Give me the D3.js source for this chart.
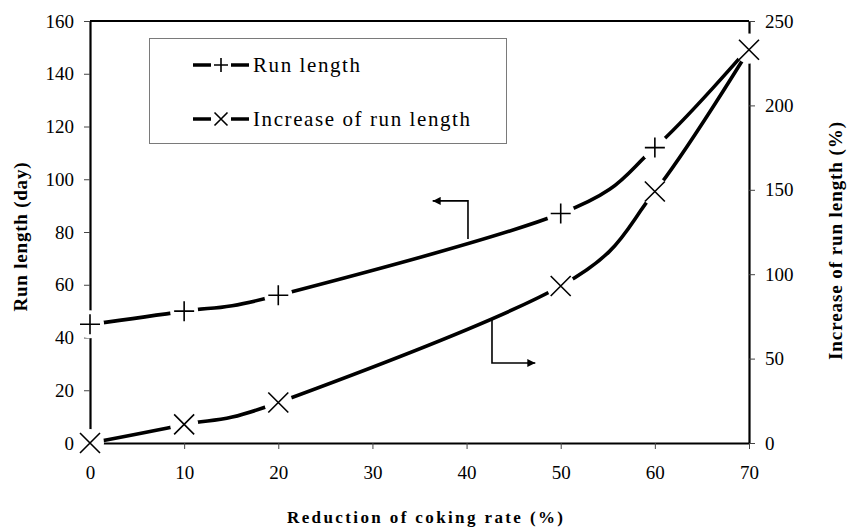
<!DOCTYPE html>
<html lang="en">
<head>
<meta charset="UTF-8">
<title>Run length</title>
<script src="https://cdnjs.cloudflare.com/ajax/libs/d3/7.8.4/d3.min.js"></script>
<style>
  body { margin: 0; background: #fff; }
</style>
</head>
<body>
<div class="visHolder"></div>
<script>
  // values
  const reduction = [0, 10, 20, 50, 60, 70];
  const runLength = [45, 50, 56, 87, 112, 150];
  const increase = [0, 11, 24, 93, 149, 233];
  const xTicks = [0, 10, 20, 30, 40, 50, 60, 70];
  const leftTicks = [0, 20, 40, 60, 80, 100, 120, 140, 160];
  const rightTicks = [0, 50, 100, 150, 200, 250];
  const seriesNames = ["Run length", "Increase of run length"];

  const w = 847;
  const h = 527;
  const serif = "Liberation Serif, DejaVu Serif, serif";

  const xScale = d3.scaleLinear().domain([0, 70]).range([90, 749]);
  const yLeft = d3.scaleLinear().domain([0, 160]).range([443, 21]);
  const yRight = d3.scaleLinear().domain([0, 250]).range([443, 21]);

  const svg = d3.select(".visHolder")
    .append("svg")
    .attr("width", w)
    .attr("height", h)
    .attr("font-family", serif);

  // axes
  const styleAxis = (g) => {
    g.attr("font-family", serif).attr("font-size", 19);
    g.select(".domain").attr("stroke", "#000").attr("stroke-width", 2.2);
    g.selectAll(".tick line").attr("stroke", "#444").attr("stroke-width", 1);
    g.selectAll(".tick text").attr("fill", "#000");
  };

  svg.append("g")
    .attr("transform", "translate(0,443)")
    .call(d3.axisBottom(xScale).tickValues(xTicks).tickSize(6).tickSizeOuter(0).tickPadding(17))
    .call(styleAxis);

  svg.append("g")
    .attr("transform", "translate(90,0)")
    .call(d3.axisLeft(yLeft).tickValues(leftTicks).tickSize(6).tickSizeOuter(0).tickPadding(10))
    .call(styleAxis);

  svg.append("g")
    .attr("transform", "translate(749,0)")
    .call(d3.axisRight(yRight).tickValues(rightTicks).tickSize(6).tickSizeOuter(0).tickPadding(10))
    .call(styleAxis);

  // top border of the plot area
  svg.append("line")
    .attr("x1", xScale(0)).attr("x2", xScale(70))
    .attr("y1", yLeft(160)).attr("y2", yLeft(160))
    .attr("stroke", "#000").attr("stroke-width", 2.2);

  // axis titles
  const title = (sel, size) => sel
    .attr("text-anchor", "middle")
    .attr("font-family", serif)
    .attr("font-size", size)
    .attr("font-weight", "bold");

  svg.append("text")
    .attr("transform", "translate(27,237) rotate(-90)")
    .attr("textLength", 149)
    .call(title, 19)
    .text("Run length (day)");

  svg.append("text")
    .attr("transform", "translate(842,241) rotate(-90)")
    .attr("textLength", 238)
    .call(title, 19)
    .text("Increase of run length (%)");

  svg.append("text")
    .attr("x", 425).attr("y", 523)
    .attr("textLength", 276)
    .call(title, 17)
    .text("Reduction of coking rate (%)");

  // annotation arrows (data units)
  svg.append("defs").append("marker")
    .attr("id", "head")
    .attr("viewBox", "0 0 10 10")
    .attr("refX", 10).attr("refY", 5)
    .attr("markerWidth", 10).attr("markerHeight", 8)
    .attr("markerUnits", "userSpaceOnUse")
    .attr("orient", "auto")
    .append("path").attr("d", "M0,0L10,5L0,10Z").attr("fill", "#000");

  svg.append("path")
    .attr("d", `M${xScale(40.15)},${yLeft(77.3)}V${yLeft(91.8)}H${xScale(36.4)}`)
    .attr("fill", "none").attr("stroke", "#000").attr("stroke-width", 1.6)
    .attr("marker-end", "url(#head)");

  svg.append("path")
    .attr("d", `M${xScale(42.7)},${yRight(74)}V${yRight(47.4)}H${xScale(47.3)}`)
    .attr("fill", "none").attr("stroke", "#000").attr("stroke-width", 1.6)
    .attr("marker-end", "url(#head)");

  const plus = "M-10,0H10M0,-10V10";
  const cross = "M-10,-10L10,10M-10,10L10,-10";

  const drawSeries = (values, yScale, shape) => {
    const pts = reduction.map((r, i) => [r, values[i]]);
    const line = d3.line()
      .x(d => xScale(d[0]))
      .y(d => yScale(d[1]))
      .curve(d3.curveCardinal.tension(0));

    svg.append("path")
      .datum(pts)
      .attr("d", line)
      .attr("fill", "none")
      .attr("stroke", "#000")
      .attr("stroke-width", 3.6);

    // white gap round each marker
    pts.forEach(d => {
      svg.append("circle")
        .attr("cx", xScale(d[0]))
        .attr("cy", yScale(d[1]))
        .attr("r", 14)
        .attr("fill", "#ffffff");
    });

    pts.forEach(d => {
      svg.append("path")
        .attr("transform", `translate(${xScale(d[0])},${yScale(d[1])})`)
        .attr("d", shape)
        .attr("stroke", "#000")
        .attr("stroke-width", 1.6)
        .attr("fill", "none");
    });
  };

  drawSeries(runLength, yLeft, plus);
  drawSeries(increase, yRight, cross);

  // legend
  const legend = svg.append("g");
  legend.append("rect")
    .attr("x", 149.5).attr("y", 38.5)
    .attr("width", 357).attr("height", 105)
    .attr("fill", "#fff")
    .attr("stroke", "#7a7a7a").attr("stroke-width", 1);

  const legendShapes = ["M-7,0H7M0,-7V7", "M-6.5,-6.5L6.5,6.5M-6.5,6.5L6.5,-6.5"];
  const legendRows = [65, 119];
  const legendWidths = [107, 217];

  seriesNames.forEach((name, i) => {
    const ly = legendRows[i];
    legend.append("line")
      .attr("x1", 193).attr("x2", 249)
      .attr("y1", ly).attr("y2", ly)
      .attr("stroke", "#000").attr("stroke-width", 3.6);
    legend.append("rect")
      .attr("x", 211).attr("y", ly - 9)
      .attr("width", 20).attr("height", 18)
      .attr("fill", "#fff");
    legend.append("path")
      .attr("transform", `translate(221,${ly})`)
      .attr("d", legendShapes[i])
      .attr("stroke", "#000").attr("stroke-width", 1.6)
      .attr("fill", "none");
    legend.append("text")
      .attr("x", 253).attr("y", ly + 7)
      .attr("textLength", legendWidths[i])
      .attr("font-family", serif)
      .attr("font-size", 21)
      .text(name);
  });
</script>
</body>
</html>
